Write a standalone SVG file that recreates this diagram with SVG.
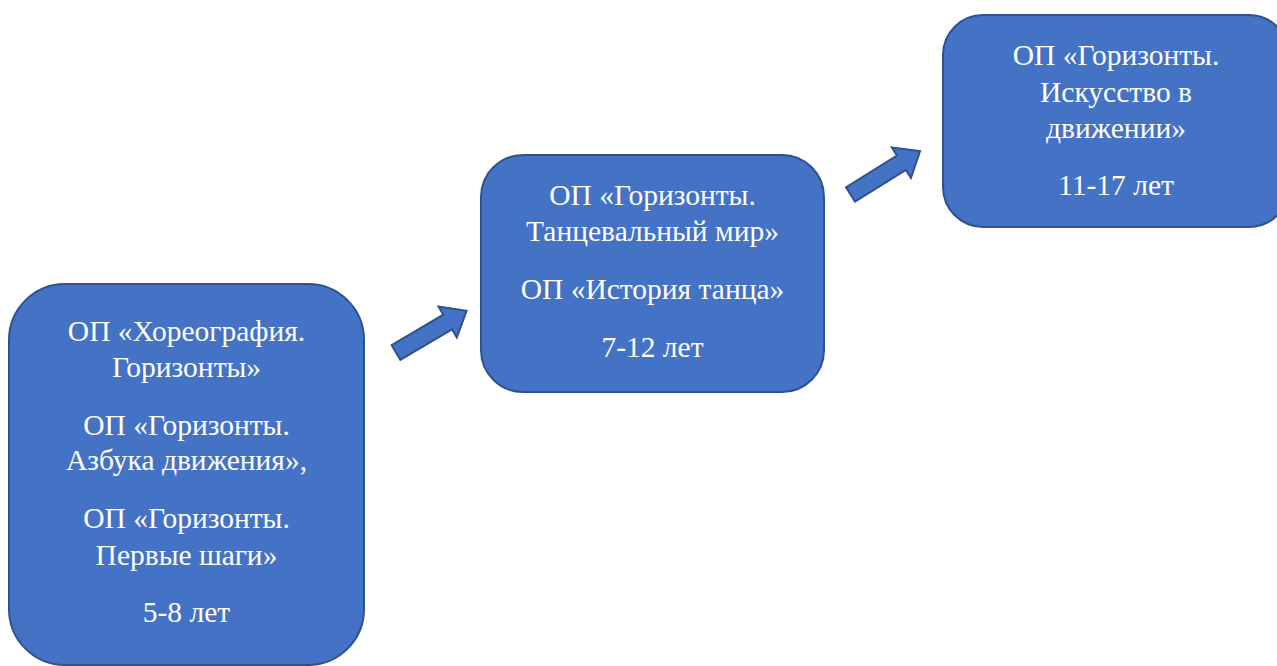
<svg xmlns="http://www.w3.org/2000/svg" width="1277" height="666" viewBox="0 0 1277 666">
<defs>
<style>
.box{fill:#4472C4;stroke:#2F528F;stroke-width:2}
.arrow{fill:#4472C4;stroke:#2F528F;stroke-width:2;stroke-linejoin:miter}
.t{font-family:'Liberation Serif','Times New Roman',serif;font-size:29.5px;fill:#ffffff;text-anchor:middle}
</style>
<path id="arr" d="M0,-8.5 L60,-8.5 L60,-18 L82,0 L60,18 L60,8.5 L0,8.5 Z"/>
</defs>
<rect width="1277" height="666" fill="#ffffff"/>
<g id="node1">
<rect class="box" x="9" y="284" width="355" height="381" rx="56" ry="56"/>
<g class="t">
<text x="186.5" y="341">ОП «Хореография.</text>
<text x="186.5" y="377">Горизонты»</text>
<text x="186.5" y="435">ОП «Горизонты.</text>
<text x="186.5" y="470">Азбука движения»,</text>
<text x="186.5" y="528">ОП «Горизонты.</text>
<text x="186.5" y="565">Первые шаги»</text>
<text x="186.5" y="622">5-8 лет</text>
</g>
</g>
<g id="node2">
<rect class="box" x="481" y="155" width="343" height="237" rx="42" ry="42"/>
<g class="t">
<text x="652.5" y="205">ОП «Горизонты.</text>
<text x="652.5" y="241">Танцевальный мир»</text>
<text x="652.5" y="299">ОП «История танца»</text>
<text x="652.5" y="357">7-12 лет</text>
</g>
</g>
<g id="node3">
<rect class="box" x="943" y="15" width="346" height="212" rx="40" ry="40"/>
<g class="t">
<text x="1116" y="65">ОП «Горизонты.</text>
<text x="1116" y="102">Искусство в</text>
<text x="1116" y="138">движении»</text>
<text x="1116" y="195">11-17 лет</text>
</g>
</g>
<g id="connectors">
<use href="#arr" class="arrow" transform="translate(396,352.5) rotate(-30.6)"/>
<use href="#arr" class="arrow" transform="translate(850.5,194.5) rotate(-32)"/>
</g>
</svg>
